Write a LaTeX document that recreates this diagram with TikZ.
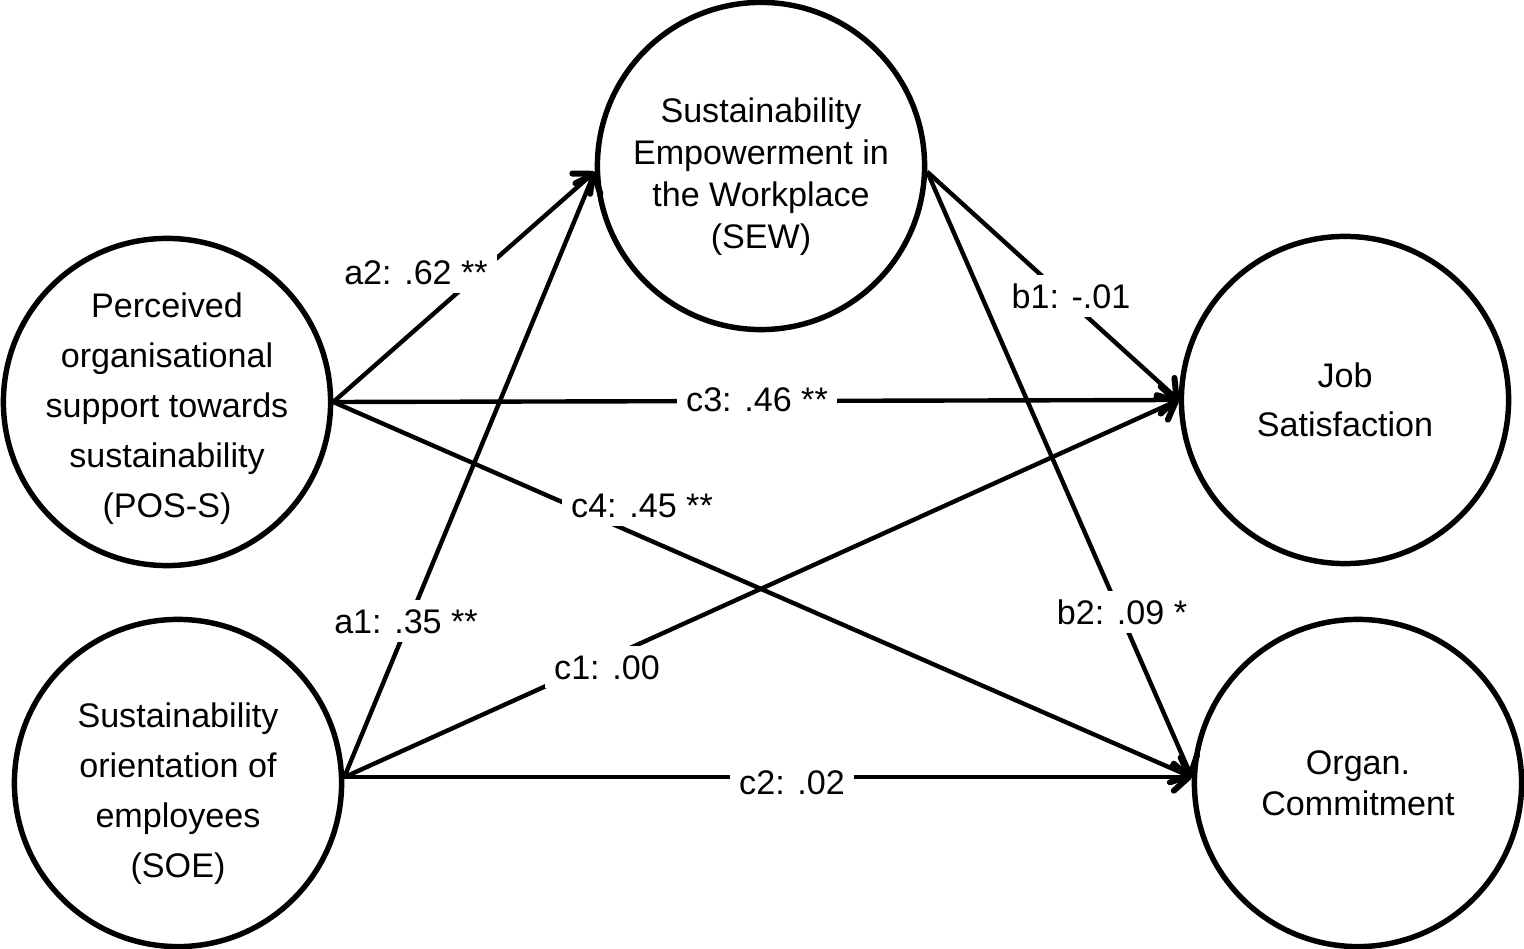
\documentclass[tikz,border=0pt]{standalone}
\usepackage{fontspec}
\setmainfont{Liberation Sans}
\usetikzlibrary{arrows.meta}
\begin{document}
\begin{tikzpicture}[x=0.01cm,y=-0.01cm,
  construct/.style={draw, circle, line width=1.55pt, minimum size=3.27cm, inner sep=-1cm, align=center},
  path/.style={line width=1.25pt, -{Straight Barb[length=0.15cm,width=0.27cm,line width=1.7pt,round]}},
  coef/.style={fill=white, inner sep=0.09cm, text height=0.24cm, text depth=0cm, font=\fontsize{9.7pt}{12pt}\selectfont}]
\useasboundingbox (0,0) rectangle (1524,949);
\node[construct, font=\fontsize{9.7pt}{11.9pt}\selectfont] (sew) at (761,166) {\rule{0pt}{0.46cm}Sustainability\\Empowerment in\\the Workplace\\(SEW)};
\node[construct, font=\fontsize{9.7pt}{14.2pt}\selectfont] (pos) at (167,402) {\rule{0pt}{0.38cm}Perceived\\organisational\\support towards\\sustainability\\(POS-S)};
\node[construct, font=\fontsize{9.7pt}{14.2pt}\selectfont] (soe) at (178,783) {\rule{0pt}{0.46cm}Sustainability\\orientation of\\employees\\(SOE)};
\node[construct, font=\fontsize{9.7pt}{14pt}\selectfont] (job) at (1345,400) {Job\\Satisfaction};
\node[construct, font=\fontsize{9.7pt}{11.7pt}\selectfont] (org) at (1358,783) {Organ.\\Commitment};

\draw[path] (pos.east) -- (sew.182);
\draw[path] (soe.2) -- (sew.182);
\draw[path] (pos.east) -- (job.west);
\draw[path] (pos.east) -- (org.178);
\draw[path] (soe.2) -- (job.west);
\draw[path] (soe.2) -- (org.178);
\draw[path] (sew.-2) -- (job.west);
\draw[path] (sew.-2) -- (org.178);

\node[coef] (la2) at (416,272) {a2: .62 **};
\node[coef] (la1) at (406,621) {a1: .35 **};
\node[coef] (lc3) at (757,399) {c3: .46 **};
\node[coef] (lc4) at (642,505) {c4: .45 **};
\node[coef] (lc1) at (607,667) {c1: .00};
\node[coef] (lc2) at (792,782) {c2: .02};
\node[coef] (lb1) at (1071,296) {b1: -.01};
\node[coef] (lb2) at (1122,612) {b2: .09 *};
\end{tikzpicture}
\end{document}
